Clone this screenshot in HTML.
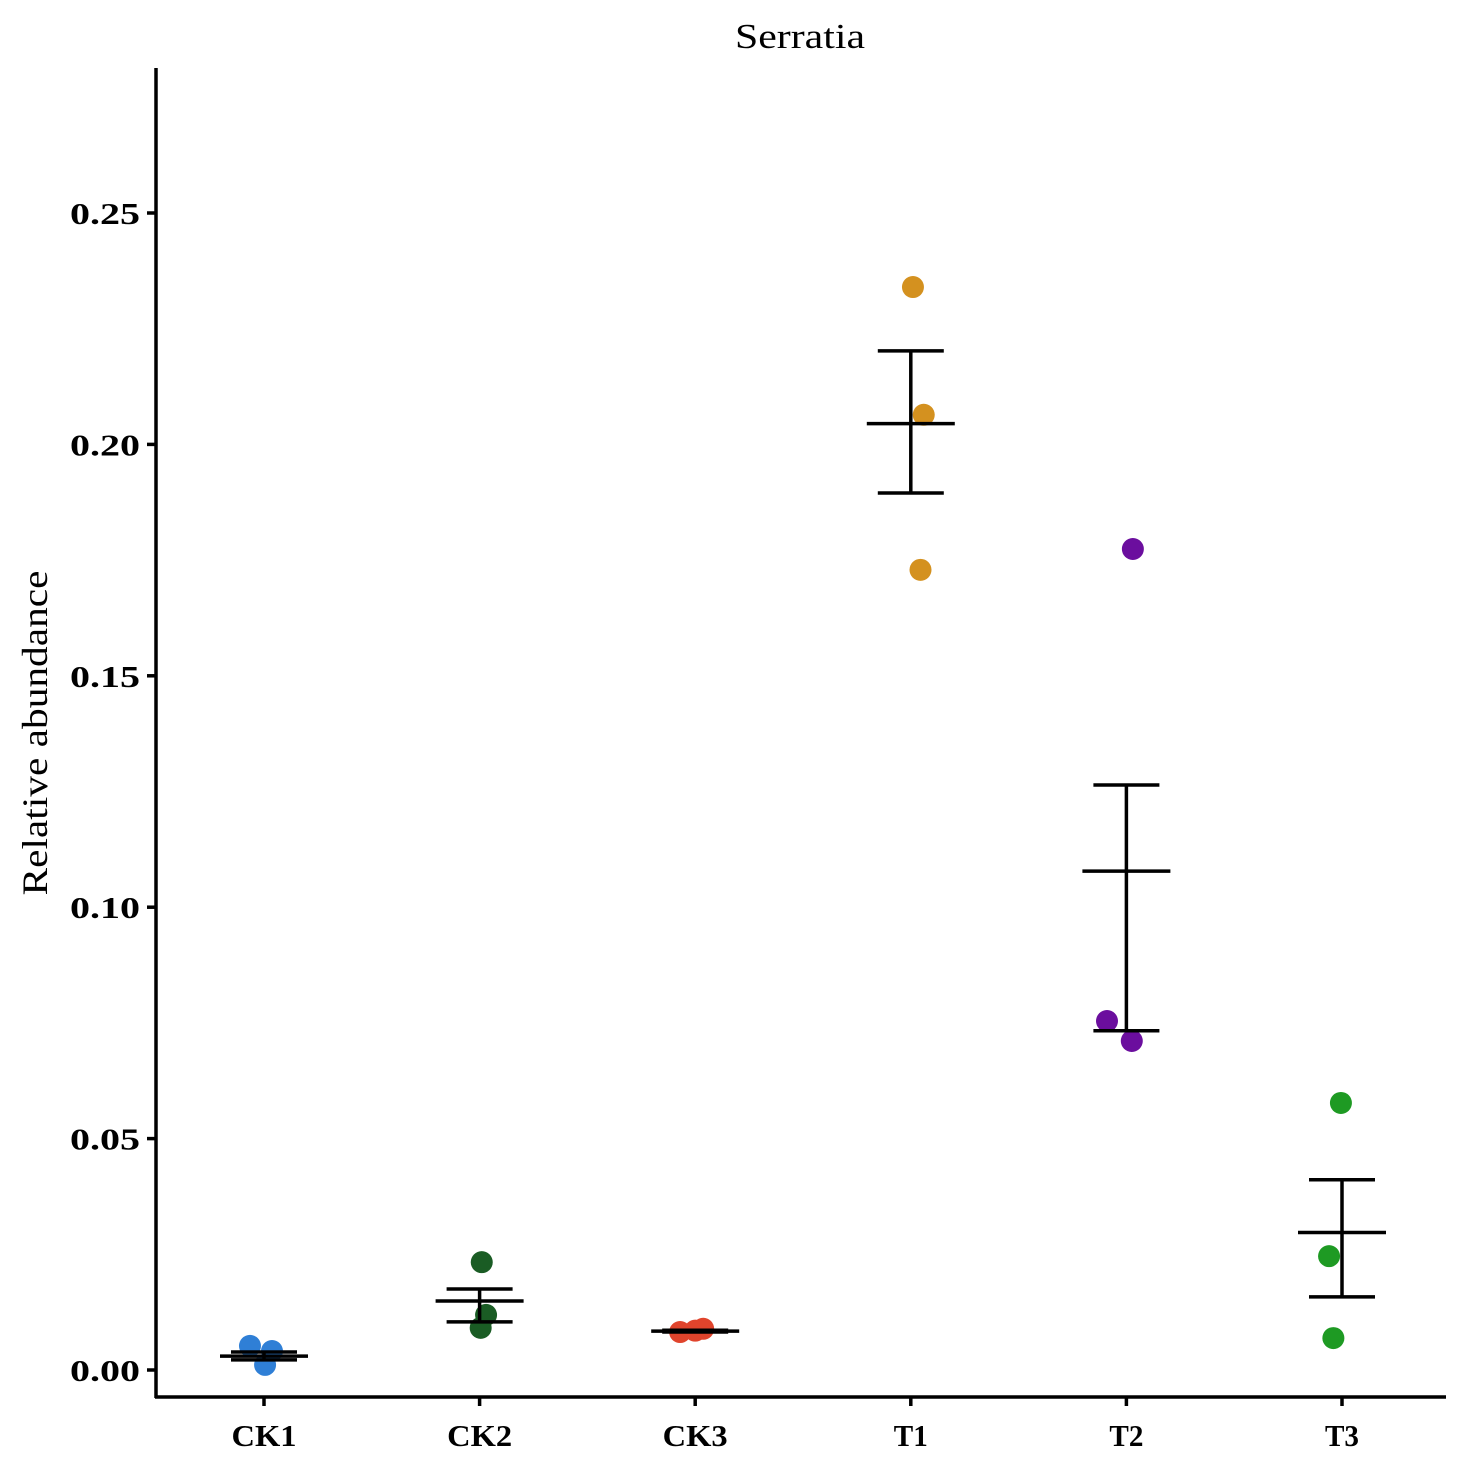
<!DOCTYPE html>
<html><head><meta charset="utf-8"><style>
body{margin:0;background:#fff}
svg{display:block;font-family:"Liberation Serif",serif}
</style></head><body>
<svg id="chart" width="1469" height="1469" viewBox="0 0 1469 1469" xmlns="http://www.w3.org/2000/svg">
<text x="800" y="48" font-size="35" text-anchor="middle" textLength="130" lengthAdjust="spacingAndGlyphs">Serratia</text>
<text transform="translate(47,733) rotate(-90)" font-size="36" text-anchor="middle" textLength="325" lengthAdjust="spacingAndGlyphs">Relative abundance</text>
<line x1="156" y1="68" x2="156" y2="1398" stroke="#000" stroke-width="3.5"/>
<line x1="155" y1="1397" x2="1446" y2="1397" stroke="#000" stroke-width="3.5"/>
<g id="g"></g>
</svg>
<script>
const categories=["CK1","CK2","CK3","T1","T2","T3"];
const colors=["#2f7fd6","#1a5c24","#e0442c","#d4911f","#6b0e9e","#1e9a23"];
const values=[[0.0052,0.0041,0.0011],[0.0233,0.0119,0.0091],[0.0082,0.0089,0.0085],[0.234,0.2064,0.1729],[0.1774,0.0754,0.0711],[0.0577,0.0246,0.0069]];
const jitter=[[-0.065,0.037,0.005],[0.01,0.03,0.005],[-0.07,0.037,0.0],[0.01,0.06,0.045],[0.03,-0.09,0.025],[-0.005,-0.06,-0.04]];
const means=[0.003,0.0149,0.0084,0.2045,0.1078,0.0297];
const errLow=[0.0022,0.0104,0.0082,0.1895,0.0733,0.0158];
const errHigh=[0.0039,0.0175,0.0086,0.2202,0.1264,0.0411];
const yTicks=[0,0.05,0.10,0.15,0.20,0.25];
const yTickLabels=["0.00","0.05","0.10","0.15","0.20","0.25"];
const y=v=>1370-v*4628;
const x=i=>264+i*215.6;
const g=document.getElementById('g');
const NS="http://www.w3.org/2000/svg";
function mk(t,a){const e=document.createElementNS(NS,t);for(const k in a)e.setAttribute(k,a[k]);g.appendChild(e);return e;}
yTicks.forEach((t,i)=>{
 const l=mk('line',{x1:147,x2:156,y1:y(t),y2:y(t),stroke:'#000','stroke-width':3.5});
 
 
 const tx=mk('text',{x:140,y:y(t)+11,'font-size':31,'font-weight':'bold','text-anchor':'end',textLength:70,lengthAdjust:'spacingAndGlyphs'});
 tx.textContent=yTickLabels[i];
 
 
});
categories.forEach((c,i)=>{
 const l=mk('line',{x1:x(i),x2:x(i),y1:1397,y2:1406,stroke:'#000','stroke-width':3.5});
 
 
 const tx=mk('text',{x:x(i),y:1446,'font-size':31,'font-weight':'bold','text-anchor':'middle',textLength:(c.length===3?65:34),lengthAdjust:'spacingAndGlyphs'});
 tx.textContent=c;
 
 
 values[i].forEach((v,j)=>{
  const p=mk('circle',{cx:x(i+jitter[i][j]),cy:y(v),r:11,fill:colors[i]});
  
  
 });
 const s={stroke:'#000','stroke-width':3.5};
 const m=mk('line',Object.assign({x1:x(i)-44,x2:x(i)+44,y1:y(means[i]),y2:y(means[i])},s));
 
 
 const e=mk('line',Object.assign({x1:x(i),x2:x(i),y1:y(errLow[i]),y2:y(errHigh[i])},s));
 
 
 [errLow[i],errHigh[i]].forEach(v=>{
  const cp=mk('line',Object.assign({x1:x(i)-33,x2:x(i)+33,y1:y(v),y2:y(v)},s));
  
  
 });
});
</script>
</body></html>
